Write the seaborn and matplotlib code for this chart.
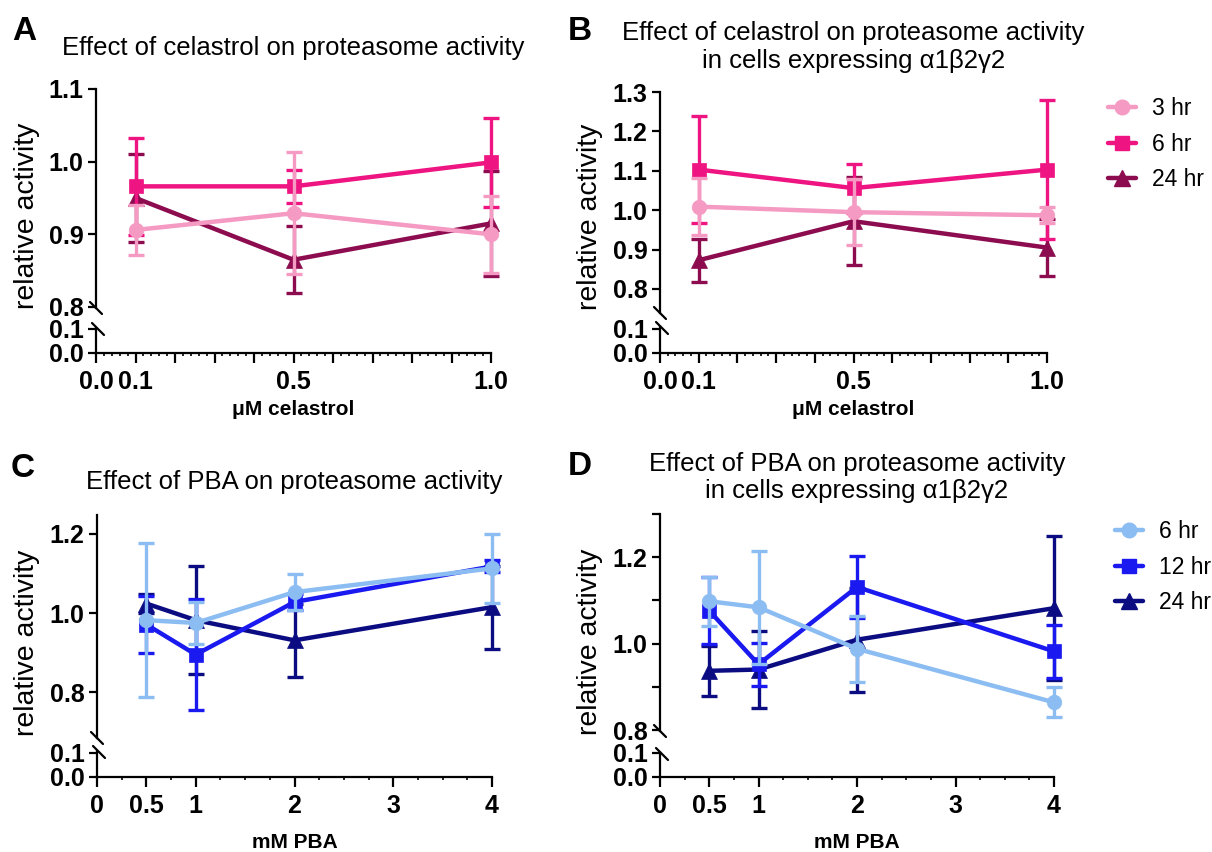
import numpy as np
import pandas as pd
import matplotlib
matplotlib.use("Agg")
import matplotlib.pyplot as plt
from matplotlib.lines import Line2D
import seaborn as sns

# ---------------- data ----------------
celastrol_conc = [0.1, 0.5, 1.0]
pba_conc = [0.5, 1, 2, 4]

celastrol_times = ["3 hr", "6 hr", "24 hr"]
pba_times = ["6 hr", "12 hr", "24 hr"]

# Panel A: celastrol, parental cells (mean, SD)
a_3hr = [0.906, 0.929, 0.900]
a_3hr_sd = [0.034, 0.084, 0.053]
a_6hr = [0.966, 0.966, 0.999]
a_6hr_sd = [0.067, 0.023, 0.061]
a_24hr = [0.950, 0.865, 0.915]
a_24hr_sd = [0.061, 0.046, 0.072]

# Panel B: celastrol, cells expressing a1b2g2
b_3hr = [1.009, 0.995, 0.987]
b_3hr_sd = [0.073, 0.083, 0.020]
b_6hr = [1.103, 1.056, 1.103]
b_6hr_sd = [0.135, 0.062, 0.177]
b_24hr = [0.873, 0.972, 0.905]
b_24hr_sd = [0.055, 0.112, 0.072]

# Panel C: PBA, parental cells
c_6hr = [0.982, 0.975, 1.053, 1.113]
c_6hr_sd = [0.195, 0.053, 0.045, 0.087]
c_12hr = [0.971, 0.895, 1.028, 1.118]
c_12hr_sd = [0.072, 0.140, 0.020, 0.015]
c_24hr = [1.024, 0.982, 0.931, 1.015]
c_24hr_sd = [0.025, 0.137, 0.093, 0.105]

# Panel D: PBA, cells expressing a1b2g2
d_6hr = [1.098, 1.084, 0.988, 0.864]
d_6hr_sd = [0.057, 0.131, 0.077, 0.035]
d_12hr = [1.076, 0.952, 1.131, 0.982]
d_12hr_sd = [0.078, 0.050, 0.071, 0.062]
d_24hr = [0.937, 0.940, 1.009, 1.082]
d_24hr_sd = [0.058, 0.090, 0.120, 0.167]

celastrol_xticks = [0.0, 0.1, 0.5, 1.0]
celastrol_xticklabels = ["0.0", "0.1", "0.5", "1.0"]
pba_xticks = [0, 0.5, 1, 2, 3, 4]
pba_xticklabels = ["0", "0.5", "1", "2", "3", "4"]

# ---------------- style ----------------
sns.set_theme(style="ticks")
plt.rcParams["font.family"] = ["Liberation Sans", "DejaVu Sans"]
plt.rcParams["axes.linewidth"] = 1.6
for k in ["text.color", "axes.labelcolor", "xtick.color", "ytick.color",
          "axes.edgecolor"]:
    plt.rcParams[k] = "black"

PINKS = ["#F59AC3", "#EE1482", "#8C0C4F"]
BLUES = ["#8CBDF2", "#1A1AF0", "#0C0C82"]
MARKERS = ["o", "s", "^"]
MSIZES = [10.5, 10, 11]

W, H = 1212, 852
fig = plt.figure(figsize=(W / 100, H / 100), dpi=100)


def px_axes(l, t, r, b):
    return fig.add_axes([l / W, 1 - b / H, (r - l) / W, (b - t) / H])


def fx(x):
    return x / W


def fy(y):
    return 1 - y / H


def slash(x, y):
    fig.add_artist(Line2D([fx(x - 6), fx(x + 6)], [fy(y - 6), fy(y + 6)],
                          color="black", lw=1.6, transform=fig.transFigure))


def panel(pos, xlim, ylim_top, xticks, xticklabels, xminor, xmajor_all,
          yticks, ylabels, x, series, sds, labels, colors):
    l, r, t_top, t_bot, b_top, b_bot = pos
    ax = px_axes(l, t_top, r, t_bot)
    axb = px_axes(l, b_top, r, b_bot)
    n = len(series)
    for i in reversed(range(n)):
        df = pd.DataFrame({"x": x, "y": series[i]})
        z = 10 + (n - i) * 2
        eb = ax.errorbar(x, series[i], yerr=sds[i], fmt="none", ecolor=colors[i],
                         elinewidth=2.4, capsize=5.5, capthick=2.4, zorder=z)
        for art in eb.lines[1] + eb.lines[2]:
            art.set_clip_on(False)
        sns.lineplot(data=df, x="x", y="y", ax=ax, color=colors[i],
                     marker=MARKERS[i], markersize=MSIZES[i],
                     markeredgecolor=colors[i], markeredgewidth=0.5,
                     lw=3.2, zorder=z + 1, legend=False, errorbar=None,
                     clip_on=False)
    ax.set_xlim(*xlim)
    ax.set_ylim(*ylim_top)
    axb.set_xlim(*xlim)
    axb.set_ylim(0, 0.1 * (b_bot - b_top) / 24.0)
    for a in (ax, axb):
        a.set_facecolor("none")
        a.spines["top"].set_visible(False)
        a.spines["right"].set_visible(False)
        a.set_xlabel("")
        a.set_ylabel("")
    ax.spines["bottom"].set_visible(False)
    ax.tick_params(axis="x", which="both", bottom=False, labelbottom=False)
    ax.set_yticks(yticks)
    ax.set_yticklabels(ylabels)
    axb.set_yticks([0, 0.1])
    axb.set_yticklabels(["0.0", "0.1"])
    axb.set_xticks(xmajor_all)
    axb.set_xticklabels([xticklabels[xticks.index(v)] if v in xticks else ""
                         for v in xmajor_all])
    axb.set_xticks(xminor, minor=True)
    for a in (ax, axb):
        a.tick_params(axis="y", which="major", direction="out", length=6,
                      width=1.6, pad=3, labelsize=18, color="black")
        for lab in a.get_yticklabels():
            lab.set_fontweight("bold")
    axb.tick_params(axis="x", which="major", direction="out", length=7,
                    width=1.6, pad=5.5, labelsize=18)
    axb.tick_params(axis="x", which="minor", direction="out", length=2.5,
                    width=1.2)
    for lab in axb.get_xticklabels():
        lab.set_fontweight("bold")
    slash(l, t_bot)
    slash(l + 2, b_top + 1)
    return ax, axb


# ---- Panel A ----
panel((96, 491, 89, 308, 328, 353), (0, 1.0), (0.7986, 1.1),
      celastrol_xticks, celastrol_xticklabels,
      list(np.arange(0, 1.001, 0.02)), [round(v, 1) for v in np.arange(0, 1.01, 0.1)],
      [0.8, 0.9, 1.0, 1.1], ["0.8", "0.9", "1.0", "1.1"],
      celastrol_conc, [a_3hr, a_6hr, a_24hr], [a_3hr_sd, a_6hr_sd, a_24hr_sd],
      celastrol_times, PINKS)

# ---- Panel B ----
panel((660, 1047, 92, 313, 327, 353), (0, 1.0), (0.739, 1.3),
      celastrol_xticks, celastrol_xticklabels,
      list(np.arange(0, 1.001, 0.02)), [round(v, 1) for v in np.arange(0, 1.01, 0.1)],
      [0.8, 0.9, 1.0, 1.1, 1.2, 1.3], ["0.8", "0.9", "1.0", "1.1", "1.2", "1.3"],
      celastrol_conc, [b_3hr, b_6hr, b_24hr], [b_3hr_sd, b_6hr_sd, b_24hr_sd],
      celastrol_times, PINKS)

# ---- Panel C ----
panel((97, 492, 515, 738, 751, 777), (0, 4), (0.684, 1.248),
      pba_xticks, pba_xticklabels,
      list(np.arange(0, 4.001, 0.25)), pba_xticks,
      [0.8, 1.0, 1.2], ["0.8", "1.0", "1.2"],
      pba_conc, [c_6hr, c_12hr, c_24hr], [c_6hr_sd, c_12hr_sd, c_24hr_sd],
      pba_times, BLUES)

# ---- Panel D ----
panel((660, 1054, 514, 731, 753, 777), (0, 4), (0.7977, 1.3),
      pba_xticks, pba_xticklabels,
      list(np.arange(0, 4.001, 0.25)), pba_xticks,
      [0.8, 0.9, 1.0, 1.1, 1.2, 1.3], ["0.8", "", "1.0", "", "1.2", ""],
      pba_conc, [d_6hr, d_12hr, d_24hr], [d_6hr_sd, d_12hr_sd, d_24hr_sd],
      pba_times, BLUES)

# ---- text ----
for letter, (x, y) in zip("ABCD", [(12, 40), (568, 40), (11, 477), (568, 475)]):
    fig.text(fx(x), fy(y), letter, fontsize=24, fontweight="bold",
             ha="left", va="baseline")

TS = 18.5
fig.text(fx(293.5), fy(48), "Effect of celastrol on proteasome activity",
         fontsize=TS, ha="center", va="center")
fig.text(fx(853.5), fy(47), "Effect of celastrol on proteasome activity\nin cells expressing α1β2γ2",
         fontsize=TS, ha="center", va="center", linespacing=1.2)
fig.text(fx(294.5), fy(482), "Effect of PBA on proteasome activity",
         fontsize=TS, ha="center", va="center")
fig.text(fx(857), fy(477.5), "Effect of PBA on proteasome activity\nin cells expressing α1β2γ2",
         fontsize=TS, ha="center", va="center", linespacing=1.2)

for (x, y) in [(27, 216), (590, 217), (27, 643), (590, 642)]:
    fig.text(fx(x), fy(y), "relative activity", fontsize=20.5, rotation=90,
             ha="center", va="center")

for (x, y, s) in [(293.5, 410, "μM celastrol"), (853.5, 410, "μM celastrol"),
                  (294.5, 842, "mM PBA"), (857, 842, "mM PBA")]:
    fig.text(fx(x), fy(y), s, fontsize=15, fontweight="bold",
             ha="center", va="center")


def legend(labels, colors, x, y):
    handles = [Line2D([0], [0], color=c, lw=3.2, marker=m, markersize=ms,
                      markeredgecolor=c) for c, m, ms in zip(colors, MARKERS, MSIZES)]
    fig.legend(handles, labels, loc="upper left", bbox_to_anchor=(fx(x), fy(y)),
               frameon=False, fontsize=16.5, handlelength=1.2, handletextpad=0.7,
               labelspacing=0.55, borderpad=0, borderaxespad=0)


legend(celastrol_times, PINKS, 1108, 97)
legend(pba_times, BLUES, 1115, 520)

fig.savefig("out.png", dpi=100)
